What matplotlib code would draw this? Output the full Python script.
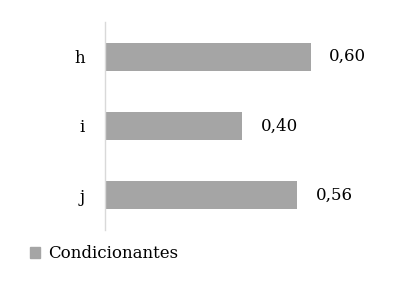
import matplotlib
matplotlib.use("Agg")
import matplotlib.pyplot as plt
from matplotlib.patches import Patch

categories = ["h", "i", "j"]
values = [0.60, 0.40, 0.56]
series_name = "Condicionantes"

plt.rcParams["font.family"] = ["DejaVu Serif"]

fig = plt.figure(figsize=(4.03, 2.91), dpi=100)
# axes in pixel terms: left 105, right 380, top 22, bottom 230
ax = fig.add_axes([105 / 403, 1 - 230 / 291, 275 / 403, 208 / 291])

ypos = list(range(len(categories)))
bars = ax.barh(ypos, values, height=0.4, color="#a5a5a5")
ax.set_ylim(len(categories) - 0.5, -0.5)
ax.set_xlim(0, 275 / 343.5)
ax.set_yticks(ypos)
ax.set_yticklabels(categories, fontsize=12)
ax.tick_params(axis="y", length=0, pad=14.5)
ax.set_xticks([])

for s in ["top", "right", "bottom"]:
    ax.spines[s].set_visible(False)
ax.spines["left"].set_color("#d9d9d9")
ax.spines["left"].set_linewidth(1.0)

for b, v in zip(bars, values):
    ax.annotate("{:.2f}".format(v).replace(".", ","),
                xy=(b.get_width(), b.get_y() + b.get_height() / 2),
                xytext=(13, 0), textcoords="offset points",
                va="center", ha="left", fontsize=12)

fig.legend(handles=[Patch(color="#a5a5a5", label=series_name)],
           loc="center left", bbox_to_anchor=(18 / 403, 1 - 254 / 291),
           frameon=False, fontsize=12, handlelength=0.6, handleheight=0.6,
           handletextpad=0.5, borderpad=0.2)

fig.savefig("out.png", dpi=100)
